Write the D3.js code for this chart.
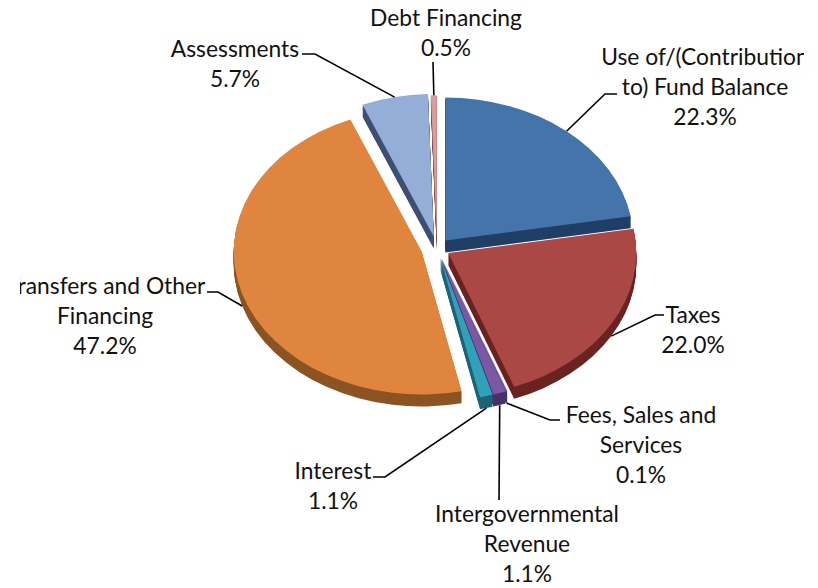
<!DOCTYPE html>
<html>
<head>
<meta charset="utf-8">
<script src="https://cdn.jsdelivr.net/npm/d3@7.9.0/dist/d3.min.js"></script>
<style>
  html, body { margin: 0; background: #fff; }
  svg { display: block; }
  text { font-family: Lato, "Open Sans", sans-serif; font-size: 22.8px; fill: #111; text-anchor: middle; }
</style>
</head>
<body>
<div id="chart"></div>
<script>
const categories = [
  "Use of/(Contribution to) Fund Balance",
  "Taxes",
  "Fees, Sales and Services",
  "Intergovernmental Revenue",
  "Interest",
  "Transfers and Other Financing",
  "Assessments",
  "Debt Financing",
];
const shares = [22.3, 22.0, 0.1, 1.1, 1.1, 47.2, 5.7, 0.5];
const topColors = ["#4474aa", "#aa4845", "#8a6fb0", "#7c58a4", "#31a0b9", "#e0853d", "#94aed7", "#dc9b9a"];
const sideColors = ["#213f66", "#6b2422", "#4a3168", "#4a3168", "#1d6476", "#8c5423", "#3f4f74", "#7a4a4a"];

// wrapped label lines, same order as categories
const labelLines = [
  ["Use of/(Contribution", "to) Fund Balance"],
  ["Taxes"],
  ["Fees, Sales and", "Services"],
  ["Intergovernmental", "Revenue"],
  ["Interest"],
  ["Transfers and Other", "Financing"],
  ["Assessments"],
  ["Debt Financing"],
];

// label placement: centre x, first baseline, leader bend points
const labelLayout = [
  { x: 705, y: 65, bend: [[605, 94], [617, 94]] },
  { x: 693, y: 323, bend: [[655, 315], [664, 315]] },
  { x: 641, y: 423, bend: [[550, 420], [560, 420]] },
  { x: 527, y: 522, bend: [[499, 500]] },
  { x: 333, y: 479, bend: [[385, 477], [373, 477]] },
  { x: 105, y: 294, firstX: 106, bend: [[218, 292], [207, 292]] },
  { x: 235, y: 57, bend: [[315, 54], [302, 54]] },
  { x: 446, y: 26, bend: [[433, 62]] },
];

// how far each slice is pulled out of the pie
const explodes = [13, 13, 13, 13, 13, 16, 15, 13];

const width = 818;
const height = 588;
const cx = 437;
const cy = 248;
const radius = 188;
const tilt = 0.76;
const depth = 12;
const lineHeight = 30;

const svg = d3.select("#chart").append("svg").attr("width", width).attr("height", height);

// the reference crops its labels at these edges
svg.append("clipPath").attr("id", "label-clip")
  .append("rect").attr("x", 20).attr("y", 0).attr("width", 784).attr("height", height);

const slices = d3.pie().sort(null).value((d) => d)(shares);
const arc = d3.arc().innerRadius(0).outerRadius(radius);
const midAngle = (d) => (d.startAngle + d.endAngle) / 2;

const offset = (d, i) => [
  cx + explodes[i] * Math.sin(midAngle(d)),
  cy - explodes[i] * tilt * Math.cos(midAngle(d)),
];

const pie = svg.append("g");

// walls: the same slice stacked downwards in the darker colour
slices.forEach((d, i) => {
  const [x, y] = offset(d, i);
  d3.range(depth, 0, -1).forEach((step) => {
    pie.append("path")
      .attr("transform", `translate(${x},${y + step}) scale(1,${tilt})`)
      .attr("d", arc(d))
      .attr("fill", sideColors[i]);
  });
});

slices.forEach((d, i) => {
  const [x, y] = offset(d, i);
  pie.append("path")
    .attr("transform", `translate(${x},${y}) scale(1,${tilt})`)
    .attr("d", arc(d))
    .attr("fill", topColors[i]);
});

// leaders start on the rim at the middle of each slice
const line = d3.line();
slices.forEach((d, i) => {
  const [x, y] = offset(d, i);
  const a = midAngle(d);
  const rimY = y - radius * tilt * Math.cos(a) + (Math.cos(a) < 0 ? depth : 0);
  const start = [x + radius * Math.sin(a), rimY];
  svg.append("path")
    .attr("d", line([start, ...labelLayout[i].bend]))
    .attr("fill", "none")
    .attr("stroke", "#000")
    .attr("stroke-width", 1.6);
});

const labels = svg.append("g").attr("clip-path", "url(#label-clip)");
categories.forEach((name, i) => {
  const place = labelLayout[i];
  const rows = [...labelLines[i], shares[i].toFixed(1) + "%"];
  rows.forEach((row, r) => {
    labels.append("text")
      .attr("x", r === 0 && place.firstX ? place.firstX : place.x)
      .attr("y", place.y + r * lineHeight)
      .text(row);
  });
});
</script>
</body>
</html>
